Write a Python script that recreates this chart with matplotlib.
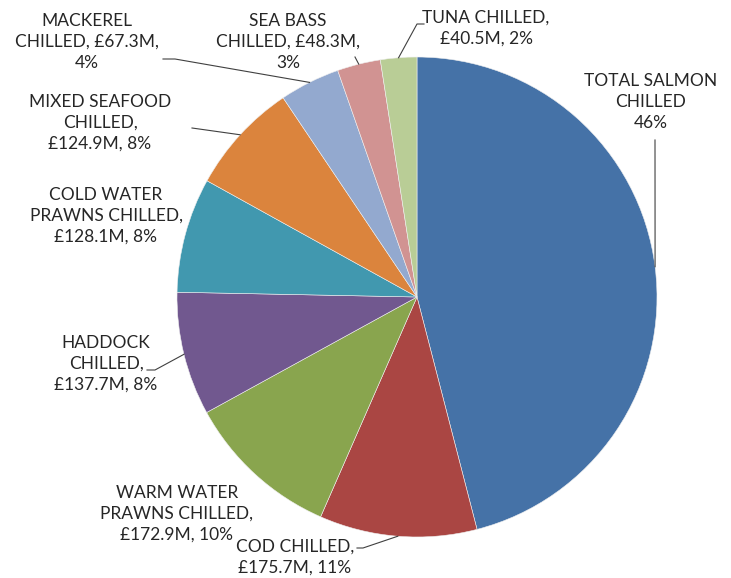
import numpy as np
import matplotlib.pyplot as plt

plt.rcParams['font.family'] = ['Lato', 'DejaVu Sans']

# values in £M, clockwise from 12 o'clock (salmon value not shown, sized to 46%)
values = [762.0, 175.7, 172.9, 137.7, 128.1, 124.9, 67.3, 48.3, 40.5]
colors = ["#4572A7", "#AA4643", "#89A54E", "#71588F", "#4198AF",
          "#DB843D", "#93A9CF", "#D19392", "#B9CD96"]
label_text = [
    "TOTAL SALMON\nCHILLED\n46%",
    "COD CHILLED,\n£175.7M, 11%",
    "WARM WATER\nPRAWNS CHILLED,\n£172.9M, 10%",
    "HADDOCK\nCHILLED,\n£137.7M, 8%",
    "COLD WATER\nPRAWNS CHILLED,\n£128.1M, 8%",
    "MIXED SEAFOOD\nCHILLED,\n£124.9M, 8%",
    "MACKEREL\nCHILLED, £67.3M,\n4%",
    "SEA BASS\nCHILLED, £48.3M,\n3%",
    "TUNA CHILLED,\n£40.5M, 2%",
]
# label centres (pixels) and leader line start points (None = no leader)
label_pos = [(651, 102), (295, 557), (177, 514), (106, 364), (106, 216),
             (100, 123), (87, 42), (288, 42), (486, 28)]
leaders = [
    [(655, 140)],
    [(357, 548), (363, 548)],
    None,
    [(147, 370), (155, 370)],
    None,
    [(192, 128)],
    [(163, 59), (175, 59)],
    [(355, 57)],
    [(424, 24), (417, 24)],
]

fig = plt.figure(figsize=(7.31, 5.78), dpi=100)
ax = fig.add_axes([0, 0, 1, 1])
cx, cy, r = 417, 297, 240
wedges, _ = ax.pie(values, colors=colors, startangle=-90, counterclock=True,
                   center=(cx, cy), radius=r,
                   wedgeprops=dict(edgecolor="#f0f0f0", linewidth=0.4))
ax.set_xlim(0, 731)
ax.set_ylim(578, 0)
ax.set_aspect("equal")
ax.axis("off")

for w, txt, pos, lead in zip(wedges, label_text, label_pos, leaders):
    ax.text(pos[0], pos[1], txt, ha="center", va="center", fontsize=12.5,
            color="#262626", linespacing=1.38)
    if lead is not None:
        mid = np.deg2rad((w.theta1 + w.theta2) / 2)
        anchor = (cx + r * np.cos(mid), cy + r * np.sin(mid))
        pts = lead + [anchor]
        ax.plot([p[0] for p in pts], [p[1] for p in pts], color="#404040", lw=0.8)

fig.savefig("out.png", dpi=100)
